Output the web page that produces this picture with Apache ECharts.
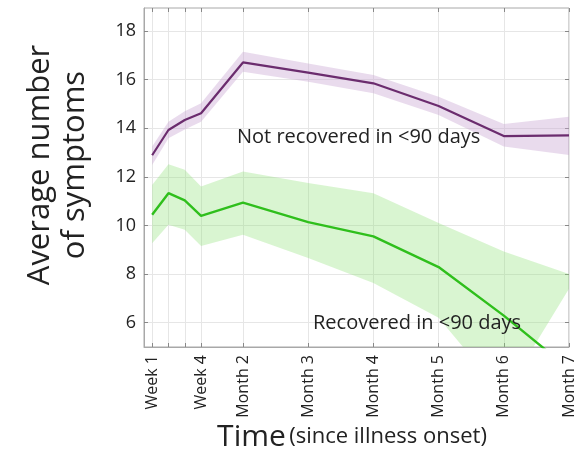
<!DOCTYPE html>
<html>
<head>
<meta charset="utf-8">
<script src="https://cdn.jsdelivr.net/npm/echarts@6/dist/echarts.min.js"></script>
<style>html,body{margin:0;padding:0;background:#fff;}#c{width:577px;height:455px;}</style>
</head>
<body>
<div id="c"></div>
<script>
// time positions (days since onset) and tick labels
const tickDays = [7, 14, 21, 28, 46, 74, 102, 130, 158, 186];
const tickLabels = ['Week 1', '', '', 'Week 4', 'Month 2', 'Month 3', 'Month 4', 'Month 5', 'Month 6', 'Month 7'];
const yTicks = [6, 8, 10, 12, 14, 16, 18];

// Not recovered in <90 days
const notRecMean = [12.89, 13.93, 14.34, 14.62, 16.71, 16.29, 15.85, 14.92, 13.68, 13.71];
const notRecLow  = [12.49, 13.59, 13.95, 14.27, 16.33, 15.92, 15.44, 14.55, 13.25, 12.90];
const notRecHigh = [13.25, 14.27, 14.70, 15.03, 17.15, 16.67, 16.19, 15.30, 14.18, 14.48];

// Recovered in <90 days
const recMean = [10.44, 11.33, 11.03, 10.40, 10.94, 10.14, 9.55, 8.29, 6.29, 4.10];
const recLow  = [9.27, 10.03, 9.82, 9.16, 9.62, 8.66, 7.63, 6.20, 3.00, 7.40];
const recHigh = [11.67, 12.52, 12.29, 11.60, 12.22, 11.75, 11.33, 10.10, 8.93, 8.00];

const FONT = 'Open Sans';
const pair = (xs, ys) => xs.map((x, i) => [x, ys[i]]);
const bandRows = (lo, hi) => tickDays.map((d, i) => [d, lo[i], hi[i]]);

function bandSeries(lo, hi, fill) {
  const rows = bandRows(lo, hi);
  return {
    type: 'custom',
    data: rows,
    encode: {x: 0, y: [1, 2]},
    silent: true,
    z: 1,
    renderItem: function (params, api) {
      if (params.dataIndex !== 0) return null;
      const upper = rows.map(r => api.coord([r[0], r[2]]));
      const lower = rows.map(r => api.coord([r[0], r[1]])).reverse();
      const cs = params.coordSys;
      return {
        type: 'polygon',
        shape: {points: upper.concat(lower)},
        style: {fill: fill},
        clipPath: {type: 'rect', shape: {x: cs.x, y: cs.y, width: cs.width, height: cs.height}}
      };
    }
  };
}

const chart = echarts.init(document.getElementById('c'), null, {renderer: 'canvas'});

const gridColor = '#e6e6e6';
const axisColor = '#a8a8a8';

chart.setOption({
  animation: false,
  backgroundColor: '#fff',
  grid: {left: 144, right: 8, top: 8, bottom: 108, show: true, borderColor: axisColor, borderWidth: 1, containLabel: false},
  xAxis: [{
    type: 'value', min: 3.5, max: 186,
    axisLine: {show: true, onZero: false, lineStyle: {color: axisColor}},
    axisTick: {show: true, inside: true, length: 4, lineStyle: {color: '#888'}, customValues: tickDays},
    axisLabel: {
      customValues: tickDays, rotate: 90, margin: 8, fontFamily: FONT, fontSize: 16, color: '#222',
      formatter: v => tickLabels[tickDays.indexOf(v)] || ''
    },
    splitLine: {show: true, lineStyle: {color: gridColor, width: 1}}
  }, {
    type: 'value', min: 3.5, max: 186, position: 'top',
    axisLine: {show: false},
    axisTick: {show: true, inside: true, length: 4, lineStyle: {color: '#888'}, customValues: tickDays},
    axisLabel: {show: false},
    splitLine: {show: false}
  }],
  yAxis: [{
    type: 'value', min: 5, max: 18.95,
    axisLine: {show: true, onZero: false, lineStyle: {color: axisColor}},
    axisTick: {show: true, inside: true, length: 4, lineStyle: {color: '#888'}, customValues: yTicks},
    axisLabel: {customValues: yTicks, margin: 8, fontFamily: FONT, fontSize: 18, color: '#222'},
    splitLine: {show: true, lineStyle: {color: gridColor, width: 1}}
  }, {
    type: 'value', min: 5, max: 18.95, position: 'right',
    axisLine: {show: false},
    axisTick: {show: true, inside: true, length: 4, lineStyle: {color: '#888'}, customValues: yTicks},
    axisLabel: {show: false},
    splitLine: {show: false}
  }],
  series: [
    bandSeries(notRecLow, notRecHigh, 'rgba(200,165,210,0.4)'),
    bandSeries(recLow, recHigh, 'rgba(140,225,115,0.33)'),
    {type: 'line', data: pair(tickDays, notRecMean), symbol: 'none', lineStyle: {color: '#6b2c6e', width: 2.2}, z: 5},
    {type: 'line', data: pair(tickDays, recMean), symbol: 'none', lineStyle: {color: '#2fbf1c', width: 2.4}, z: 5}
  ],
  graphic: [
    {type: 'text', left: 237, top: 127, style: {text: 'Not recovered in <90 days', font: '20px "Open Sans"', fill: '#222'}, z: 10},
    {type: 'text', left: 313, top: 313, style: {text: 'Recovered in <90 days', font: '20px "Open Sans"', fill: '#222'}, z: 10},
    {type: 'text', x: 58, y: 165, rotation: Math.PI / 2,
      style: {text: 'Average number\nof symptoms', font: '31px "Open Sans"', fill: '#222', align: 'center', verticalAlign: 'middle', lineHeight: 35}, z: 10},
    {type: 'text', x: 352, y: 437,
      style: {text: '{a|Time} {b|(since illness onset)}', align: 'center', verticalAlign: 'middle',
        rich: {a: {fontFamily: FONT, fontSize: 30, fill: '#222', color: '#222'}, b: {fontFamily: FONT, fontSize: 22, fill: '#222', color: '#222'}}}, z: 10}
  ]
});
</script>
</body>
</html>
